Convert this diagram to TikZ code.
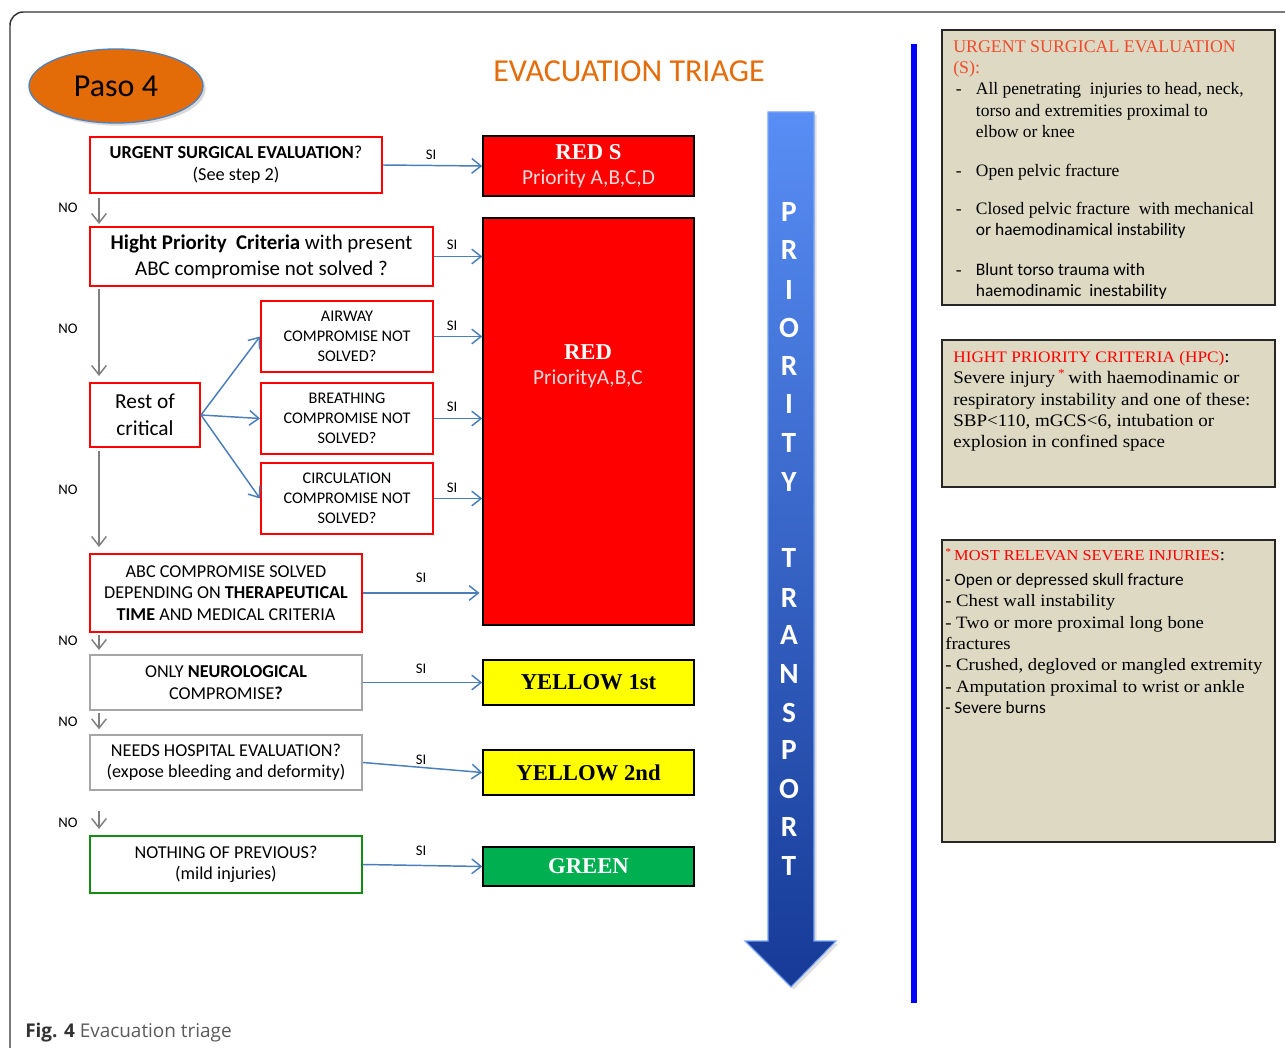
\documentclass[tikz,border=0pt]{standalone}
\usepackage{fontspec}
\setmainfont{Carlito}
\newfontfamily\tnr{Liberation Serif}
\newfontfamily\cmb[FakeStretch=1.08]{Liberation Serif}
\newfontfamily\capf{Open Sans}
\usetikzlibrary{arrows.meta,shadows,shapes.geometric}

\definecolor{boxred}{RGB}{255,0,0}
\definecolor{boxgray}{RGB}{166,166,166}
\definecolor{boxgreen}{RGB}{20,140,20}
\definecolor{flowblue}{RGB}{74,126,187}
\definecolor{nogray}{RGB}{128,128,128}
\definecolor{tagyellow}{RGB}{255,255,0}
\definecolor{taggreen}{RGB}{0,176,80}
\definecolor{pasoorange}{RGB}{227,108,9}
\definecolor{pasoedge}{RGB}{79,129,189}
\definecolor{titleorange}{RGB}{228,108,10}
\definecolor{notefill}{RGB}{221,217,195}
\definecolor{noteedge}{RGB}{38,38,38}
\definecolor{surghdr}{RGB}{240,75,45}
\definecolor{prioLight}{RGB}{88,142,245}
\definecolor{prioDark}{RGB}{22,58,150}
\definecolor{pinkish}{RGB}{242,220,219}
\definecolor{capgray}{RGB}{90,90,90}
\definecolor{framegray}{RGB}{50,50,50}

\tikzset{
  % place a rectangle node by its corners, given in px (1px = 0.75pt)
  corners/.code args={#1,#2,#3,#4}{%
    \pgfmathsetmacro\bxw{(#3-#1)*0.75}\pgfmathsetmacro\bxh{(#4-#2)*0.75}%
    \pgfmathsetmacro\bxx{(#1+#3)/2}\pgfmathsetmacro\bxy{(#2+#4)/2}%
    \pgfkeysalso{rectangle, minimum width=\bxw pt, minimum height=\bxh pt, at={(\bxx,\bxy)}}},
  qbox/.style={draw=boxred, line width=1.5pt, inner sep=0pt, align=center, fill=white},
  gbox/.style={qbox, draw=boxgray},
  okbox/.style={qbox, draw=boxgreen},
  tag/.style={draw=black, line width=1.1pt, inner sep=0pt, align=center},
  tagtext/.style={font=\tnr\bfseries\fontsize{17}{20}\selectfont},
  note/.style={draw=noteedge, fill=notefill, line width=1.5pt, inner sep=0pt},
  siarr/.style={draw=flowblue, line width=1.1pt, -{Straight Barb[length=7pt,width=11pt]}},
  noarr/.style={draw=nogray, line width=1.1pt, -{Straight Barb[length=7pt,width=11pt]}},
  lbl/.style={font=\fontsize{11}{13}\selectfont, inner sep=0pt},
  prio/.style={font=\bfseries\fontsize{22}{24}\selectfont, text=white, inner sep=0pt,
    text height=15pt, text depth=0pt},
  caps/.style={font=\fontsize{13.6}{16.2}\selectfont},
}

\begin{document}
\begin{tikzpicture}[x=0.75pt, y=-0.75pt]
\useasboundingbox (0,0) rectangle (1285,1048);

% outer frame
\draw[framegray, line width=1.1pt, rounded corners=10pt] (10,1048) -- (10,12) -- (1285,12);

% step badge and title
\node[ellipse, draw=pasoedge, line width=1pt, fill=pasoorange, minimum width=174*0.75pt,
  minimum height=74*0.75pt, inner sep=0pt,
  drop shadow={opacity=0.3, shadow xshift=2pt, shadow yshift=-2pt},
  font=\fontsize{24}{27}\selectfont] (paso) at (116,86) {Paso 4};
\node[text=titleorange, font=\fontsize{24}{27}\selectfont, inner sep=0pt] (title) at (629,71) {EVACUATION TRIAGE};

% question boxes
\node[qbox, corners={90,137,382,193}, font=\fontsize{13.7}{16.5}\selectfont] (q1)
  {{\bfseries URGENT SURGICAL EVALUATION}?\\(See step 2)};
\node[qbox, corners={90,227,433,286}, font=\fontsize{15.7}{19.5}\selectfont] (q2)
  {{\bfseries Hight Priority\ \ Criteria} with present\\ABC compromise not solved ?};
\node[qbox, corners={90,383,200,447}, font=\fontsize{16}{20}\selectfont] (rest)
  {Rest of\\critical};
\node[qbox, corners={261,301,433,372}, font=\fontsize{12.2}{15}\selectfont] (air)
  {AIRWAY\\COMPROMISE NOT\\SOLVED?};
\node[qbox, corners={261,383,433,454}, font=\fontsize{12.2}{15}\selectfont] (brt)
  {BREATHING\\COMPROMISE NOT\\SOLVED?};
\node[qbox, corners={261,463,433,534}, font=\fontsize{12.2}{15}\selectfont] (circ)
  {CIRCULATION\\COMPROMISE NOT\\SOLVED?};
\node[qbox, corners={90,554,362,632}, caps] (abc)
  {ABC COMPROMISE SOLVED\\DEPENDING ON {\bfseries THERAPEUTICAL}\\{\bfseries TIME} AND MEDICAL CRITERIA};
\node[gbox, corners={90,655,362,710}, caps] (neuro)
  {ONLY {\bfseries NEUROLOGICAL}\\COMPROMISE{\bfseries ?}};
\node[gbox, corners={90,735,362,790}, caps] (hosp)
  {NEEDS HOSPITAL EVALUATION?\\(expose bleeding and deformity)};
\node[okbox, corners={90,836,362,893}, caps] (none)
  {NOTHING OF PREVIOUS?\\(mild injuries)};

% triage categories
\node[tag, fill=boxred, corners={483,136,694,196}] (reds)
  {{\tnr\bfseries\fontsize{17}{20}\selectfont\color{white}RED S}\\[7pt]
   {\fontsize{16}{18}\selectfont\color{pinkish}Priority A,B,C,D}};
\node[tag, fill=boxred, corners={483,218,694,625}] (red) {};
\node[align=center, inner sep=0pt] (redlbl) at (588,366)
  {{\tnr\bfseries\fontsize{17}{20}\selectfont\color{white}RED}\\[7pt]
   {\fontsize{16}{18}\selectfont\color{pinkish}PriorityA,B,C}};
\node[tag, fill=tagyellow, corners={483,660,694,705}, tagtext] (yel1) {YELLOW 1st};
\node[tag, fill=tagyellow, corners={483,750,694,795}, tagtext] (yel2) {YELLOW 2nd};
\node[tag, fill=taggreen, corners={483,847,694,886}, tagtext, text=white] (grn) {GREEN};

% "SI" connectors
\draw[siarr] (q1.east) -- (reds.west);
\draw[siarr] (q2.east) -- (q2.east -| red.west);
\draw[siarr] (air.east) -- (air.east -| red.west);
\draw[siarr] (brt.east) -- (brt.east -| red.west);
\draw[siarr] (circ.east) -- (circ.east -| red.west);
\draw[siarr] (abc.east) -- ([xshift=-2pt]abc.east -| red.west);
\draw[siarr] (neuro.east) -- (yel1.west);
\draw[siarr] (hosp.east) -- (yel2.west);
\draw[siarr] (none.east) -- (grn.west);

\node[lbl] (si1) at (431,155) {SI};
\node[lbl] (si2) at (452,245) {SI};
\node[lbl] (si3) at (452,326) {SI};
\node[lbl] (si4) at (452,407) {SI};
\node[lbl] (si5) at (452,488) {SI};
\node[lbl] (si6) at (421,578) {SI};
\node[lbl] (si7) at (421,669) {SI};
\node[lbl] (si8) at (421,760) {SI};
\node[lbl] (si9) at (421,851) {SI};

% fan-out of the critical branch
\draw[siarr] (rest.east) -- (air.west);
\draw[siarr] (rest.east) -- (brt.west);
\draw[siarr] (rest.east) -- (circ.west);

% "NO" connectors
\draw[noarr] ([xshift=7.5pt,yshift=-3pt]q1.south west) -- ([xshift=7.5pt,yshift=1.5pt]q2.north west);
\draw[noarr] ([xshift=7.5pt,yshift=-1.5pt]q2.south west) -- ([xshift=7.5pt,yshift=4.5pt]rest.north west);
\draw[noarr] ([xshift=7.5pt,yshift=-2.5pt]rest.south west) -- ([xshift=7.5pt,yshift=4.5pt]abc.north west);
\draw[noarr] ([xshift=7.5pt,yshift=-1.5pt]abc.south west) -- ([xshift=7.5pt,yshift=3pt]neuro.north west);
\draw[noarr] ([xshift=7.5pt,yshift=-1.5pt]neuro.south west) -- ([xshift=7.5pt,yshift=3.5pt]hosp.north west);
\draw[noarr] ([xshift=7.5pt,yshift=18pt]none.north west) -- ([xshift=7.5pt,yshift=4.5pt]none.north west);

\node[lbl] (no1) at (68,208) {NO};
\node[lbl] (no2) at (68,329) {NO};
\node[lbl] (no3) at (68,490) {NO};
\node[lbl] (no4) at (68,641) {NO};
\node[lbl] (no5) at (68,722) {NO};
\node[lbl] (no6) at (68,823) {NO};

% priority transport arrow
\path[top color=prioLight, bottom color=prioDark, draw=prioLight!80!white, line width=0.8pt,
  drop shadow={opacity=0.25, shadow xshift=2pt, shadow yshift=-2pt}]
  (768,112) -- (814,112) -- (814,941) -- (836,941) -- (791,987) -- (745,941) -- (768,941) -- cycle;
\foreach \ch/\yy [count=\i] in {P/212,R/250,I/290,O/328,R/366,I/404,T/442,Y/481,
    T/557,R/597,A/634,N/673,S/712,P/749,O/788,R/826,T/865}
  \node[prio] (pt\i) at (789,\yy) {\ch};

% separator
\draw[blue, line width=3.8pt] (914,44) -- (914,1003);

% note panels
\node[note, corners={942,30,1275,305}] (n1) {};
\node[note, corners={942,340,1275,487}] (n2) {};
\node[note, corners={942,540,1275,842}] (n3) {};

\node[anchor=north west, inner sep=0pt, font=\tnr\fontsize{13.1}{16}\selectfont] (n1txt) at (953,37) {%
\begin{tabular}{@{}p{17pt}@{}l@{}}
\multicolumn{2}{@{}l@{}}{\color{surghdr}\fontsize{13.4}{16}\selectfont URGENT SURGICAL EVALUATION}\\
\multicolumn{2}{@{}l@{}}{\color{surghdr}\fontsize{13.4}{16}\selectfont (S):}\\
\hspace*{2pt}- & All penetrating\ \ injuries to head, neck,\\
 & torso and extremities proximal to\\
 & elbow or knee\\[13pt]
\hspace*{2pt}- & Open pelvic fracture\\[12.4pt]
\hspace*{2pt}- & Closed pelvic fracture\ \ with mechanical\\
 & {\rmfamily or haemodinamical instability}\\[14pt]
\hspace*{2pt}- & {\rmfamily Blunt\ torso\ trauma\ with}\\
 & {\rmfamily haemodinamic\ \ inestability}
\end{tabular}};

\node[anchor=north west, inner sep=0pt, align=left, font=\cmb\fontsize{13.2}{16}\selectfont] (n2txt) at (953,351)
  {{\color{boxred}\fontsize{12}{16}\selectfont HIGHT PRIORITY CRITERIA (HPC)}:\\
   Severe injury\,\textsuperscript{\color{boxred}*}\,with haemodinamic or\\
   respiratory instability and one of these:\\
   SBP<110, mGCS<6, intubation or\\
   explosion in confined space};

\node[anchor=north west, inner sep=0pt, align=left, font=\cmb\fontsize{13}{16}\selectfont] (n3txt) at (945,548)
  {{\color{boxred}\fontsize{11.4}{16}\selectfont\textsuperscript{*}\,MOST RELEVAN SEVERE INJURIES}:\\[2.75pt]
   {\rmfamily - Open or depressed skull fracture}\\
   - Chest wall instability\\
   - Two or more\ proximal long bone\\
   fractures\\
   - Crushed, degloved or mangled extremity\\
   - Amputation proximal to wrist or ankle\\
   {\rmfamily - Severe burns}};

% caption
\node[anchor=base west, inner sep=0pt, font=\capf\fontsize{14.2}{17}\selectfont, text=capgray] (cap) at (25,1037)
  {{\bfseries\color{framegray}Fig. 4} Evacuation triage};
\end{tikzpicture}
\end{document}
